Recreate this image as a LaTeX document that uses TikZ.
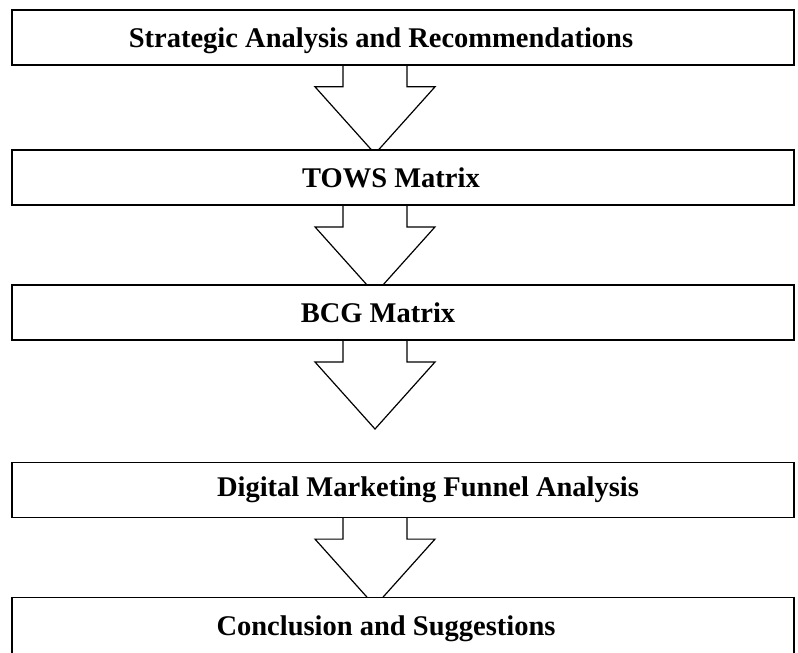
\documentclass[tikz,border=0pt]{standalone}
\usepackage{fontspec}
\setmainfont{Liberation Serif}
\usepackage{tikz}
\usetikzlibrary{positioning,backgrounds}
\tikzset{
  stage/.style={draw, line width=1.6pt, fill=white, minimum width=782pt, minimum height=55pt, inner sep=0pt},
  title/.style={font=\fontsize{28.5}{34}\selectfont\bfseries, inner sep=0pt},
  blockarr/.style={draw, line width=1.2pt, fill=white, line join=miter}
}
% hollow block arrow hanging under a stage box
\newcommand{\stagearrow}[1]{%
  \draw[blockarr] ([xshift=-60pt]#1.south) -- ++(0,-21pt) -- ++(-28pt,0) -- ++(60pt,-67pt)
    -- ++(60pt,67pt) -- ++(-28pt,0) -- ++(0,21pt);}

\begin{document}
\begin{tikzpicture}
  \useasboundingbox (0,0) rectangle (798pt,-653pt);
  \clip (0,0) rectangle (798pt,-653pt);
  \node[stage] (b1) at (403pt,-37.5pt) {};
  \node[stage, below=83.5pt of b1] (b2) {};
  \node[stage, below=78.5pt of b2] (b3) {};
  \node[stage, below=120.5pt of b3] (b4) {};
  \node[stage, below=78.5pt of b4, minimum height=62pt] (b5) {};
  \node[title] (t1) at ([xshift=-22pt,yshift=-3pt]b1.center) {Strategic Analysis and Recommendations};
  \node[title] (t2) at ([xshift=-12pt]b2.center) {TOWS Matrix};
  \node[title] (t3) at ([xshift=-25pt]b3.center) {BCG Matrix};
  \node[title] (t4) at ([xshift=25pt]b4.center) {Digital Marketing Funnel Analysis};
  \node[title] (t5) at ([xshift=-17pt]b5.center) {Conclusion and Suggestions};
  \begin{scope}[on background layer]
    \stagearrow{b1}
    \stagearrow{b2}
    \stagearrow{b3}
    \stagearrow{b4}
  \end{scope}
\end{tikzpicture}
\end{document}
